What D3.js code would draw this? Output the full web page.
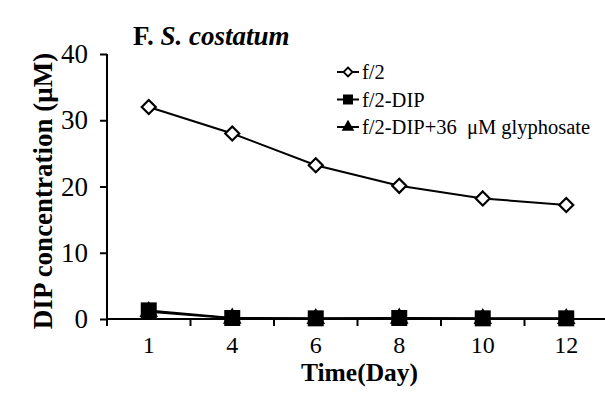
<!DOCTYPE html>
<html>
<head>
<meta charset="utf-8">
<script src="https://cdn.jsdelivr.net/npm/d3@7"></script>
<style>
  body { margin: 0; background: #fff; }
</style>
</head>
<body>
<div id="chart"></div>
<script>
// data
var days = ["1", "4", "6", "8", "10", "12"];
var f2 = [32.0, 28.0, 23.2, 20.1, 18.2, 17.2];
var f2DIP = [1.3, 0.15, 0.1, 0.15, 0.1, 0.1];
var f2DIPgly = [1.1, 0.1, 0.05, 0.1, 0.05, 0.05];
var yTicks = [0, 10, 20, 30, 40];

var serif = "'Liberation Serif', 'Times New Roman', serif";
var width = 605, height = 393;
var margin = { top: 54, right: -3, bottom: 74, left: 107 };

var svg = d3.select("#chart")
  .append("svg")
  .attr("width", width)
  .attr("height", height);

// x is categorical, equally spaced
var x = d3.scaleBand()
  .domain(days)
  .range([margin.left, width - margin.right]);

var y = d3.scaleLinear()
  .domain([0, 40])
  .range([height - margin.bottom, margin.top]);

var cx = function (d) { return x(d) + x.bandwidth() / 2; };

// Y axis
var yAxis = svg.append("g")
  .attr("transform", "translate(" + margin.left + ",0)")
  .call(d3.axisLeft(y).tickValues(yTicks).tickSize(7).tickPadding(12));
yAxis.attr("font-family", serif);
yAxis.select(".domain").attr("stroke-width", 2).attr("d", "M0," + y(40) + "V" + (y(0) + 7));
yAxis.selectAll(".tick line").attr("stroke-width", 2);
yAxis.selectAll("text").style("font-family", serif).attr("font-size", 27).attr("fill", "#000");

// X axis: labels at centres, ticks at band boundaries
var xAxis = svg.append("g")
  .attr("transform", "translate(0," + y(0) + ")")
  .call(d3.axisBottom(x).tickSize(0).tickPadding(17));
xAxis.attr("font-family", serif);
xAxis.select(".domain").attr("stroke-width", 2).attr("d", "M" + margin.left + ",0H" + (width + 5));
xAxis.selectAll("text").style("font-family", serif).attr("font-size", 24).attr("fill", "#000");
xAxis.selectAll(".bnd")
  .data(days.slice(1))
  .enter().append("line")
  .attr("class", "bnd")
  .attr("x1", function (d) { return x(d); })
  .attr("x2", function (d) { return x(d); })
  .attr("y1", 0).attr("y2", 7)
  .attr("stroke", "#000").attr("stroke-width", 2);

// axis titles
svg.append("text")
  .attr("x", (margin.left + width - margin.right) / 2 + 2)
  .attr("y", 381)
  .attr("text-anchor", "middle")
  .style("font-family", serif)
  .attr("font-size", 25.5).attr("font-weight", "bold")
  .text("Time(Day)");

svg.append("text")
  .attr("transform", "translate(52,191) rotate(-90)")
  .attr("text-anchor", "middle")
  .style("font-family", serif)
  .attr("font-size", 27).attr("font-weight", "bold")
  .text("DIP concentration (μM)");

// panel title
var title = svg.append("text")
  .attr("x", 133).attr("y", 45)
  .style("font-family", serif)
  .attr("font-size", 27).attr("font-weight", "bold");
title.append("tspan").text("F. ");
title.append("tspan").attr("font-style", "italic").text("S. costatum");

// lines
var line = d3.line()
  .x(function (d, i) { return cx(days[i]); })
  .y(function (d) { return y(d); });

[f2DIPgly, f2DIP, f2].forEach(function (s) {
  svg.append("path")
    .datum(s)
    .attr("fill", "none")
    .attr("stroke", "#000")
    .attr("stroke-width", 2)
    .attr("d", line);
});

// markers
var tri = d3.symbol().type(d3.symbolTriangle);
var sq = d3.symbol().type(d3.symbolSquare);
var dia = function (r) { return "M0," + (-r) + "L" + r + ",0L0," + r + "L" + (-r) + ",0Z"; };

svg.selectAll(".tri")
  .data(f2DIPgly)
  .enter().append("path")
  .attr("transform", function (d, i) { return "translate(" + cx(days[i]) + "," + y(d) + ")"; })
  .attr("d", tri.size(150))
  .attr("fill", "#000");

svg.selectAll(".sq")
  .data(f2DIP)
  .enter().append("path")
  .attr("transform", function (d, i) { return "translate(" + cx(days[i]) + "," + y(d) + ")"; })
  .attr("d", sq.size(256))
  .attr("fill", "#000");

svg.selectAll(".dia")
  .data(f2)
  .enter().append("path")
  .attr("transform", function (d, i) { return "translate(" + cx(days[i]) + "," + y(d) + ")"; })
  .attr("d", dia(7))
  .attr("fill", "#fff")
  .attr("stroke", "#000")
  .attr("stroke-width", 2.2);

// legend
var legend = [
  { name: "f/2", mark: "dia" },
  { name: "f/2-DIP", mark: "sq" },
  { name: "f/2-DIP+36  μM glyphosate", mark: "tri" }
];
var lg = svg.selectAll(".lg")
  .data(legend)
  .enter().append("g")
  .attr("transform", function (d, i) { return "translate(337," + (72 + i * 27.5) + ")"; });
lg.append("line")
  .attr("x1", 0).attr("x2", 22)
  .attr("stroke", "#000").attr("stroke-width", 2);
lg.append("path")
  .attr("transform", "translate(11,0)")
  .attr("d", function (d) {
    if (d.mark === "dia") return dia(4.5);
    if (d.mark === "sq") return sq.size(100)();
    return tri.size(70)();
  })
  .attr("fill", function (d) { return d.mark === "dia" ? "#fff" : "#000"; })
  .attr("stroke", function (d) { return d.mark === "dia" ? "#000" : "none"; })
  .attr("stroke-width", 1.8);
lg.append("text")
  .attr("x", 25).attr("y", 7)
  .style("font-family", serif)
  .attr("font-size", 20.5)
  .style("white-space", "pre")
  .text(function (d) { return d.name; });
</script>
</body>
</html>
